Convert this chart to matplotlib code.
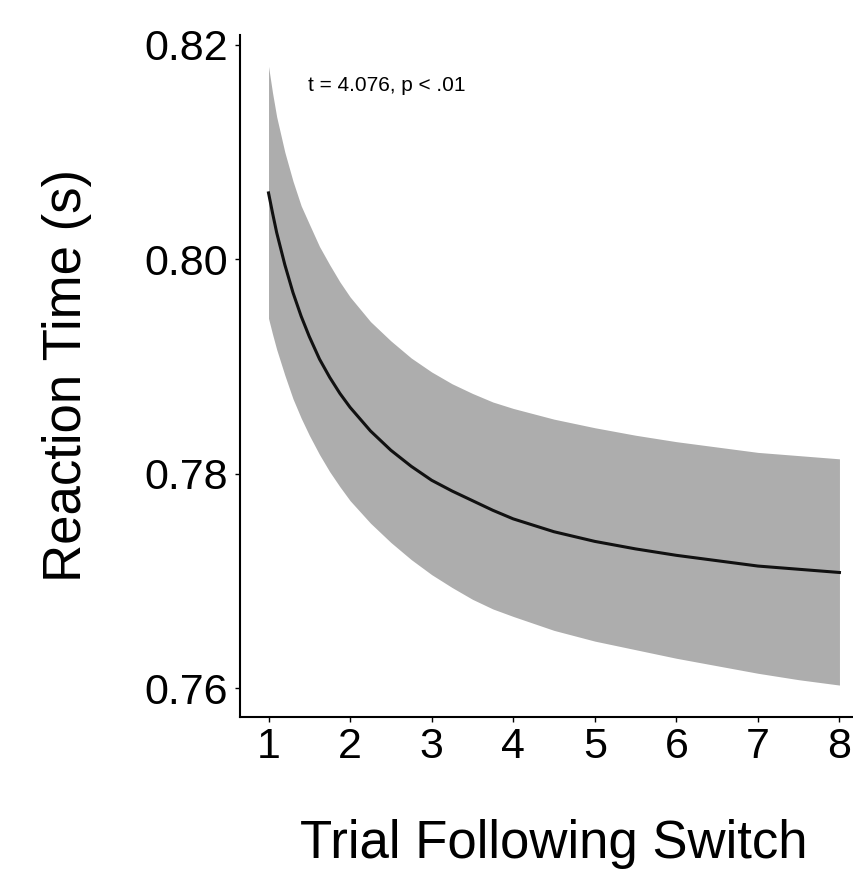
import matplotlib
matplotlib.use("Agg")
import matplotlib.pyplot as plt

plt.rcParams['font.family'] = ['Liberation Sans', 'DejaVu Sans']

# values
essai = [1, 1.05, 1.1, 1.2, 1.3, 1.4, 1.5, 1.625, 1.75, 1.875, 2, 2.25, 2.5, 2.75,
         3, 3.25, 3.5, 3.75, 4, 4.5, 5, 5.5, 6, 6.5, 7, 7.5, 8]
tr = [0.8062, 0.8043, 0.8025, 0.7995, 0.7969, 0.7947, 0.7928, 0.7907, 0.7890, 0.7875,
      0.7862, 0.7840, 0.7822, 0.7807, 0.7794, 0.7784, 0.7775, 0.7766, 0.7758, 0.7746,
      0.7737, 0.7730, 0.7724, 0.7719, 0.7714, 0.7711, 0.7708]
haut = [0.8180, 0.8155, 0.8133, 0.8100, 0.8073, 0.8050, 0.8033, 0.8012, 0.7995, 0.7979,
        0.7965, 0.7942, 0.7924, 0.7908, 0.7895, 0.7884, 0.7875, 0.7867, 0.7861, 0.7851,
        0.7843, 0.7836, 0.7830, 0.7825, 0.7820, 0.7817, 0.7814]
bas = [0.7945, 0.7930, 0.7916, 0.7892, 0.7870, 0.7852, 0.7836, 0.7818, 0.7802, 0.7788,
       0.7775, 0.7754, 0.7736, 0.7720, 0.7706, 0.7694, 0.7683, 0.7674, 0.7667, 0.7654,
       0.7644, 0.7636, 0.7628, 0.7621, 0.7614, 0.7608, 0.7603]

xticks = [1, 2, 3, 4, 5, 6, 7, 8]
yticks = [0.76, 0.78, 0.80, 0.82]
ylabels = ["0.76", "0.78", "0.80", "0.82"]
texte = "t = 4.076, p < .01"

fig = plt.figure(figsize=(8.54, 8.72), dpi=100)
ax = fig.add_axes([0.281, 0.1781, 0.7354, 0.7818])

ax.fill_between(essai, bas, haut, color='#adadad', linewidth=0)
ax.plot(essai, tr, color='#111111', linewidth=2.2, solid_joinstyle='round')

ax.set_xlim(0.65, 8.35)
ax.set_ylim(0.75735, 0.82093)
ax.set_xticks(xticks)
ax.set_yticks(yticks)
ax.set_yticklabels(ylabels)

for s in ['top', 'right']:
    ax.spines[s].set_visible(False)
for s in ['left', 'bottom']:
    ax.spines[s].set_linewidth(1.5)

ax.tick_params(axis='both', length=3.6, width=1.0, labelsize=31, color='black')
ax.tick_params(axis='x', pad=4)
ax.tick_params(axis='y', pad=5)

ax.set_xlabel("Trial Following Switch", fontsize=38)
ax.set_ylabel("Reaction Time (s)", fontsize=38)
ax.xaxis.set_label_coords(0.5, -0.150)
ax.yaxis.set_label_coords(-0.236, 0.5)

ax.text(2.446, 0.81618, texte, fontsize=15, ha='center', va='center')

fig.savefig("out.png", dpi=100)
